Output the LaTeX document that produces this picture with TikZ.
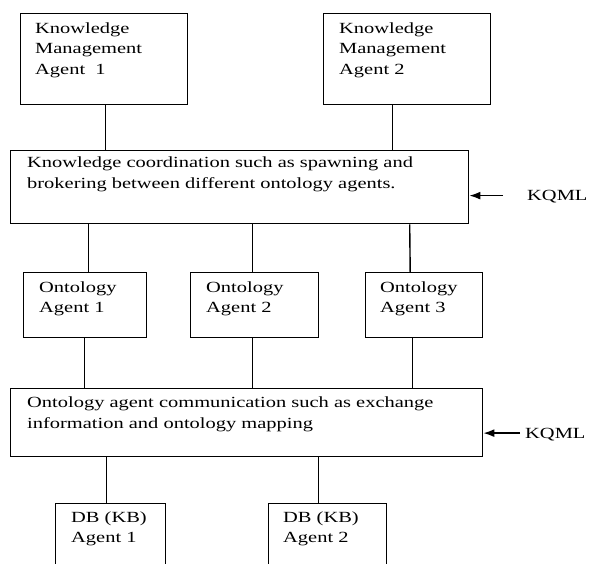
\documentclass[tikz,border=0pt]{standalone}
\usepackage{fontspec}
\setmainfont{Liberation Serif}[FakeStretch=1.32]
\usetikzlibrary{arrows.meta}
\begin{document}
\begin{tikzpicture}[x=1pt,y=-1pt,
  box/.style={draw, line width=1.4pt, rectangle, inner sep=0pt, anchor=north west},
  lbl/.style={inner sep=0pt, anchor=north west, align=left,
    font=\fontsize{15.5}{20.5}\selectfont},
  link/.style={line width=1.4pt},
  kqml/.style={line width=1.4pt, -{Latex[length=11pt,width=8pt]}}]
\clip (0,0) rectangle (589,564);
\fill[white] (0,0) rectangle (589,564);

% knowledge management agents
\node[box, minimum width=167pt, minimum height=91pt] (km1) at (20,13) {};
\node[lbl] (km1t) at (35,22.4) {Knowledge\\Management\\Agent\ \ 1};
\node[box, minimum width=167pt, minimum height=91pt] (km2) at (323,13) {};
\node[lbl] (km2t) at (339,22.4) {Knowledge\\Management\\Agent 2};

% coordination layer
\node[box, minimum width=458pt, minimum height=73pt] (coord) at (10,150) {};
\node[lbl] (coordt) at (27,157) {Knowledge coordination such as spawning and\\brokering between different ontology agents.};

% ontology agents
\node[box, minimum width=123pt, minimum height=65pt] (oa1) at (23,272) {};
\node[lbl] (oa1t) at (39,281.4) {Ontology\\Agent 1};
\node[box, minimum width=128pt, minimum height=65pt] (oa2) at (190,272) {};
\node[lbl] (oa2t) at (206,281.4) {Ontology\\Agent 2};
\node[box, minimum width=117pt, minimum height=65pt] (oa3) at (365,272) {};
\node[lbl] (oa3t) at (380,281.4) {Ontology\\Agent 3};

% communication layer
\node[box, minimum width=472pt, minimum height=68pt] (comm) at (10,388) {};
\node[lbl] (commt) at (27,396.6) {Ontology agent communication such as exchange\\information and ontology mapping};

% database agents
\node[box, minimum width=110pt, minimum height=75pt] (db1) at (55,503) {};
\node[lbl] (db1t) at (71,511.4) {DB (KB)\\Agent 1};
\node[box, minimum width=118pt, minimum height=75pt] (db2) at (268,503) {};
\node[lbl] (db2t) at (283,511.4) {DB (KB)\\Agent 2};

% KQML labels
\node[inner sep=0pt, anchor=base west, font=\fontsize{15.5}{20.5}\selectfont] (k1) at (527,201) {KQML};
\node[inner sep=0pt, anchor=base west, font=\fontsize{15.5}{20.5}\selectfont] (k2) at (525,438.5) {KQML};

% connectors
\draw[link] ([xshift=1.5pt]km1.south) -- ([xshift=1.5pt]km1.south |- coord.north);
\draw[link] ([xshift=-14.5pt]km2.south) -- ([xshift=-14.5pt]km2.south |- coord.north);
\draw[link] ([xshift=3.5pt]oa1.north) -- ([xshift=3.5pt]oa1.north |- coord.south);
\draw[link] ([xshift=-2pt]oa2.north) -- ([xshift=-2pt]oa2.north |- coord.south);
\draw[link] ([xshift=-14pt]oa3.north) -- ([xshift=-14.5pt]oa3.north |- coord.south);
\draw[link] ([xshift=-0.5pt]oa1.south) -- ([xshift=-0.5pt]oa1.south |- comm.north);
\draw[link] ([xshift=-2pt]oa2.south) -- ([xshift=-2pt]oa2.south |- comm.north);
\draw[link] ([xshift=-11.5pt]oa3.south) -- ([xshift=-11.5pt]oa3.south |- comm.north);
\draw[link] ([xshift=-4.5pt]db1.north) -- ([xshift=-4.5pt]db1.north |- comm.south);
\draw[link] ([xshift=-9pt]db2.north) -- ([xshift=-9pt]db2.north |- comm.south);

% KQML arrows
\draw[kqml] ([xshift=-24pt,yshift=1.5pt]k1.west) -- ([yshift=1.5pt]k1.west -| coord.east);
\draw[kqml] ([xshift=-5pt,yshift=1.5pt]k2.west) -- ([yshift=1.5pt]k2.west -| comm.east);
\end{tikzpicture}
\end{document}
